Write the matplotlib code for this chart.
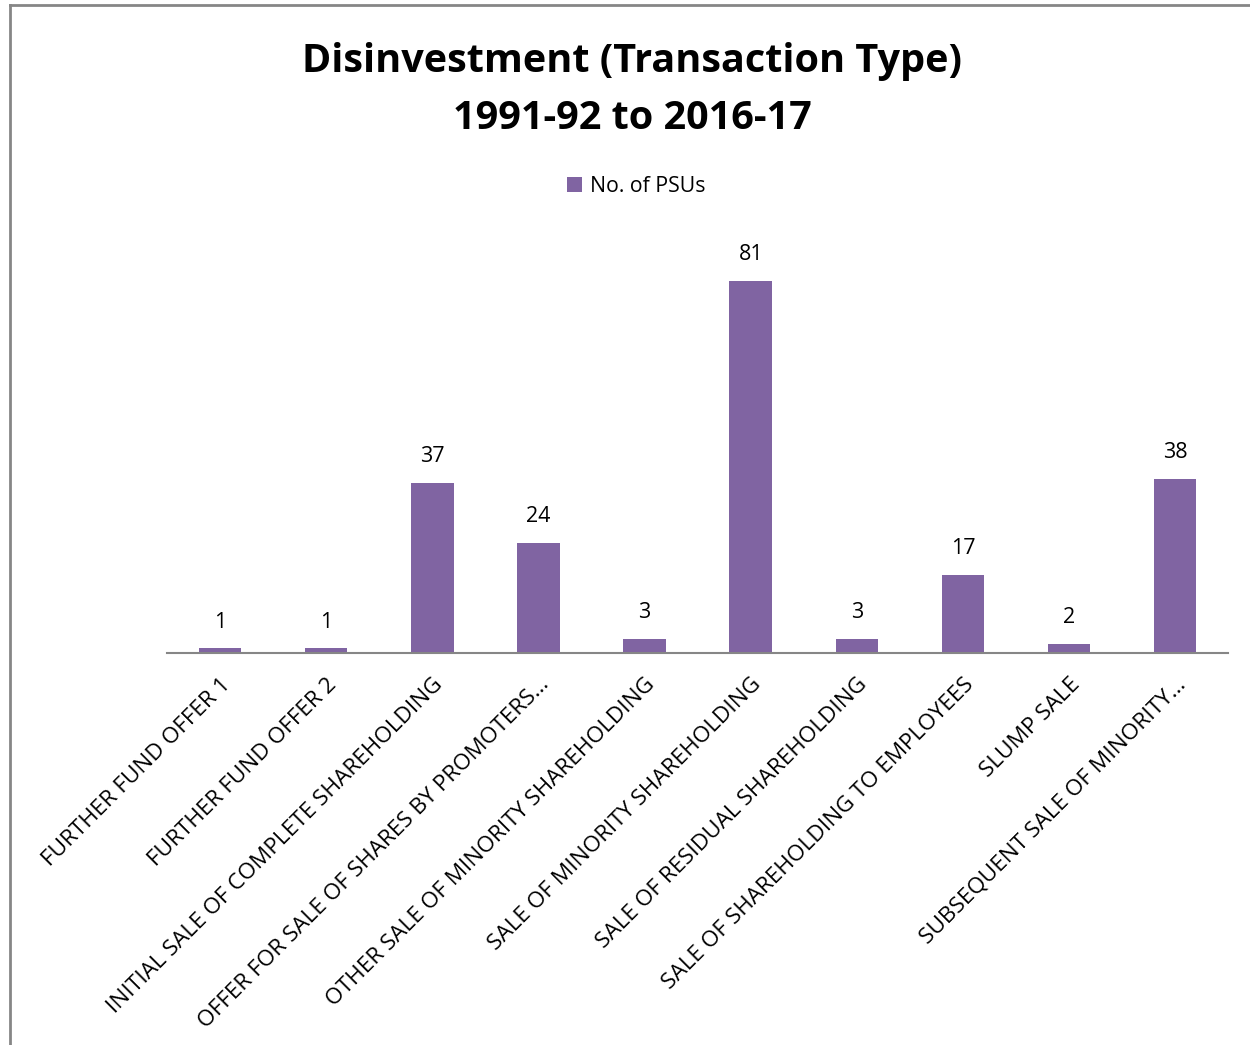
import numpy as np
import matplotlib
matplotlib.use("Agg")
import matplotlib.pyplot as plt
from matplotlib.lines import Line2D

# data
categories = ["FURTHER FUND OFFER 1", "FURTHER FUND OFFER 2", "INITIAL SALE OF COMPLETE SHAREHOLDING",
              "OFFER FOR SALE OF SHARES BY PROMOTERS...", "OTHER SALE OF MINORITY SHAREHOLDING",
              "SALE OF MINORITY SHAREHOLDING", "SALE OF RESIDUAL SHAREHOLDING",
              "SALE OF SHAREHOLDING TO EMPLOYEES", "SLUMP SALE", "SUBSEQUENT SALE OF MINORITY..."]
psus = [1, 1, 37, 24, 3, 81, 3, 17, 2, 38]

plt.rcParams['font.family'] = ['Open Sans', 'DejaVu Sans']
purple = '#8064A2'

fig = plt.figure(figsize=(12.5, 10.45), dpi=100)
# gray frame (only top and left edges show in the reference crop)
fig.lines.append(Line2D([0.0076, 0.0076], [0.0, 0.9955], transform=fig.transFigure, color='#868686', linewidth=2))
fig.lines.append(Line2D([0.0076, 1.0], [0.9955, 0.9955], transform=fig.transFigure, color='#868686', linewidth=2))
ax = fig.add_axes([0.1336, 0.3751, 0.849, 0.3952])

x = np.arange(len(categories))
bars = ax.bar(x, psus, width=0.4, color=purple, label='No. of PSUs')
for b, v in zip(bars, psus):
    ax.annotate(str(v), (b.get_x() + b.get_width() / 2, v), xytext=(0, 19.0), textcoords='offset points',
                ha='center', va='center', fontsize=15.5)

ax.set_xlim(-0.5, len(categories) - 0.5)
ax.set_ylim(0, 90)
ax.set_yticks([])
for s in ['top', 'right', 'left']:
    ax.spines[s].set_visible(False)
ax.spines['bottom'].set_color('#868686')
ax.spines['bottom'].set_linewidth(1.5)
ax.set_xticks(x)
ax.set_xticklabels(categories, rotation=45, ha='right', va='top', rotation_mode='anchor', fontsize=16.2)
ax.tick_params(axis='x', length=0, pad=15)

fig.text(0.506, 0.914, "Disinvestment (Transaction Type)\n1991-92 to 2016-17", ha='center', va='center',
         fontsize=28.5, fontweight='bold', linespacing=1.62)
ax.legend(loc='center', frameon=False, fontsize=15.3, handlelength=0.7, handleheight=0.7, handletextpad=0.4)
ax.get_legend().set_bbox_to_anchor((0.509, 1 - 186 / 1045), transform=fig.transFigure)

fig.savefig("out.png", dpi=100)
